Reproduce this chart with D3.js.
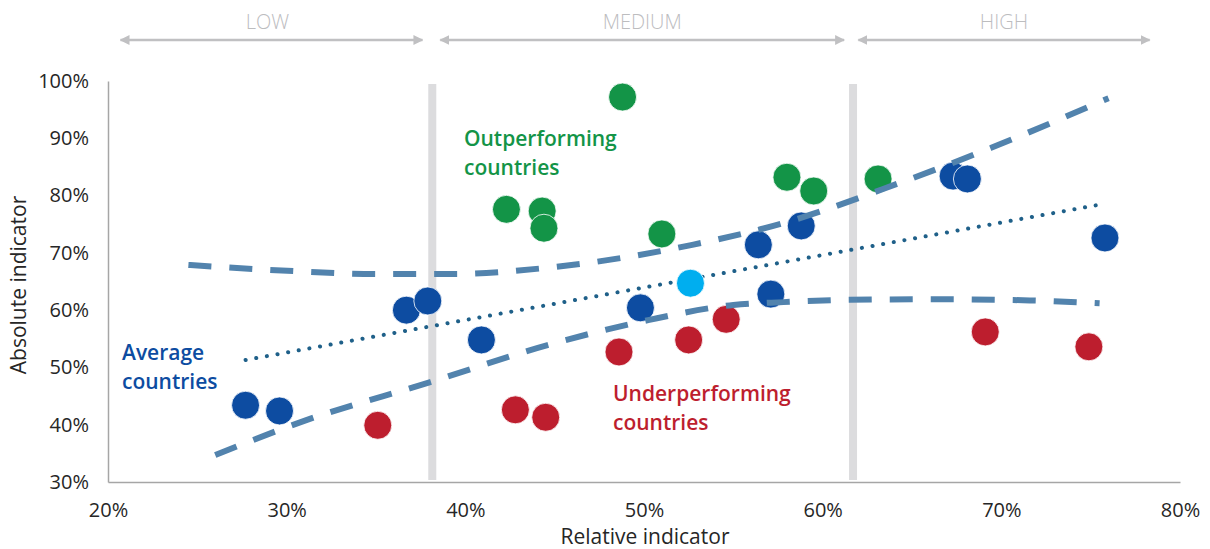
<!DOCTYPE html>
<html>
<head>
<meta charset="utf-8">
<script src="https://cdn.jsdelivr.net/npm/d3@7"></script>
<style>
  body { margin: 0; background: #fff; }
  text { font-family: "Open Sans", sans-serif; }
</style>
</head>
<body>
<div id="content"></div>
<script>
// values (percent)
var xTicks = [20, 30, 40, 50, 60, 70, 80];
var yTicks = [30, 40, 50, 60, 70, 80, 90, 100];

var outperformX = [48.8, 42.3, 44.3, 44.4, 51.0, 58.0, 59.5, 63.1];
var outperformY = [97.2, 77.6, 77.3, 74.3, 73.3, 83.2, 80.8, 82.9];

var averageX = [27.7, 29.6, 36.7, 37.9, 40.9, 49.8, 56.4, 57.1, 58.8, 67.3, 68.1, 75.8];
var averageY = [43.4, 42.4, 60.0, 61.6, 54.8, 60.4, 71.4, 62.8, 74.7, 83.4, 82.9, 72.6];

var highlightX = [52.6];
var highlightY = [64.7];

var underX = [35.1, 42.8, 44.5, 48.6, 52.5, 54.6, 69.1, 74.9];
var underY = [39.9, 42.6, 41.3, 52.7, 54.8, 58.4, 56.2, 53.6];

var trendX = [27.7, 75.3];
var trendY = [51.3, 78.3];

var upperX = [24.5, 30.5, 35.1, 39.1, 44.6, 52.7, 57.8, 64.3, 69.4, 76.0];
var upperY = [67.9, 66.8, 66.3, 66.3, 67.4, 71.4, 75.2, 82.2, 88.3, 97.0];

var lowerX = [26.0, 31.1, 37.9, 44.6, 50.3, 55.0, 57.8, 61.5, 66.1, 71.6, 75.5];
var lowerY = [34.7, 40.8, 47.3, 53.9, 58.3, 60.9, 61.4, 61.8, 61.9, 61.7, 61.2];

var bandNames = ["LOW", "MEDIUM", "HIGH"];
var bandStart = [20.7, 38.6, 62.0];
var bandEnd = [37.6, 61.2, 78.3];
var thresholds = [38.15, 61.7];

var width = 1210, height = 549;

var x = d3.scaleLinear().domain([20, 80]).range([108, 1180]);
var y = d3.scaleLinear().domain([30, 100]).range([482, 81]);

var svg = d3.select("#content").append("svg")
    .attr("width", width)
    .attr("height", height);

var defs = svg.append("defs");
defs.append("marker")
    .attr("id", "arrow")
    .attr("viewBox", "0 0 10 10")
    .attr("refX", 9).attr("refY", 5)
    .attr("markerWidth", 4).attr("markerHeight", 4)
    .attr("orient", "auto-start-reverse")
    .append("path")
    .attr("d", "M0,0 L10,5 L0,10 z")
    .attr("fill", "#c0c0c2");

// threshold bands
svg.selectAll(".thr")
    .data(thresholds)
    .enter().append("rect")
    .attr("class", "thr")
    .attr("x", function (d) { return x(d) - 4; })
    .attr("y", 84)
    .attr("width", 8)
    .attr("height", 396)
    .attr("fill", "#dcdcde");

// category arrows
bandNames.forEach(function (name, i) {
    svg.append("line")
        .attr("x1", x(bandStart[i])).attr("x2", x(bandEnd[i]))
        .attr("y1", 40).attr("y2", 40)
        .attr("stroke", "#c0c0c2")
        .attr("stroke-width", 2.5)
        .attr("marker-start", "url(#arrow)")
        .attr("marker-end", "url(#arrow)");
    svg.append("text")
        .attr("x", (x(bandStart[i]) + x(bandEnd[i])) / 2 - (i === 0 ? 4 : 0))
        .attr("y", 29)
        .attr("text-anchor", "middle")
        .style("font-size", "20px")
        .style("font-weight", 300)
        .attr("fill", "#bdbdbf")
        .text(name);
});

// axes
var xAxis = d3.axisBottom(x).tickValues(xTicks).tickSize(0).tickPadding(21)
    .tickFormat(function (d) { return d + "%"; });
var yAxis = d3.axisLeft(y).tickValues(yTicks).tickSize(0).tickPadding(19)
    .tickFormat(function (d) { return d + "%"; });

var gx = svg.append("g")
    .attr("transform", "translate(0," + y(30) + ")")
    .call(xAxis);
var gy = svg.append("g")
    .attr("transform", "translate(" + x(20) + ",0)")
    .call(yAxis);

[gx, gy].forEach(function (g) {
    g.select(".domain").attr("stroke", "#a6a6a6").attr("stroke-width", 1.5);
    g.selectAll("text")
        .style("font-size", "20px")
        .attr("fill", "#262626");
});

svg.append("text")
    .attr("x", 645).attr("y", 544)
    .attr("text-anchor", "middle")
    .style("font-size", "21px")
    .attr("fill", "#262626")
    .text("Relative indicator");

svg.append("text")
    .attr("transform", "translate(26,285) rotate(-90)")
    .attr("text-anchor", "middle")
    .style("font-size", "21px")
    .attr("fill", "#262626")
    .text("Absolute indicator");

// dotted trend line (behind dots)
var line = d3.line()
    .x(function (d) { return x(d[0]); })
    .y(function (d) { return y(d[1]); });

svg.append("path")
    .datum(d3.zip(trendX, trendY))
    .attr("d", line)
    .attr("fill", "none")
    .attr("stroke", "#1f6089")
    .attr("stroke-width", 4)
    .attr("stroke-linecap", "round")
    .attr("stroke-dasharray", "0.1 10.7");

// dots
function dots(xs, ys, colour) {
    svg.append("g").selectAll("circle")
        .data(d3.zip(xs, ys))
        .enter().append("circle")
        .attr("cx", function (d) { return x(d[0]); })
        .attr("cy", function (d) { return y(d[1]); })
        .attr("r", 14)
        .attr("fill", colour)
        .attr("stroke", "#fff")
        .attr("stroke-width", 0.8);
}
dots(outperformX, outperformY, "#139447");
dots(averageX, averageY, "#0d4ca1");
dots(highlightX, highlightY, "#00aeef");
dots(underX, underY, "#bd1e2e");

// dashed band curves (over dots)
var curve = d3.line()
    .curve(d3.curveMonotoneX)
    .x(function (d) { return x(d[0]); })
    .y(function (d) { return y(d[1]); });

[d3.zip(upperX, upperY), d3.zip(lowerX, lowerY)].forEach(function (pts) {
    svg.append("path")
        .datum(pts)
        .attr("d", curve)
        .attr("fill", "none")
        .attr("stroke", "#5283ad")
        .attr("stroke-width", 6)
        .attr("stroke-dasharray", "23 18");
});

// annotations
function note(lines, px, py, colour) {
    var t = svg.append("text")
        .attr("x", px).attr("y", py)
        .style("font-size", "21px")
        .style("font-weight", 600)
        .attr("fill", colour);
    lines.forEach(function (l, i) {
        t.append("tspan").attr("x", px).attr("dy", i === 0 ? 0 : 29).text(l);
    });
}
note(["Outperforming", "countries"], 464, 146, "#139447");
note(["Average", "countries"], 122, 360, "#0d4ca1");
note(["Underperforming", "countries"], 613, 401, "#bd1e2e");
</script>
</body>
</html>
